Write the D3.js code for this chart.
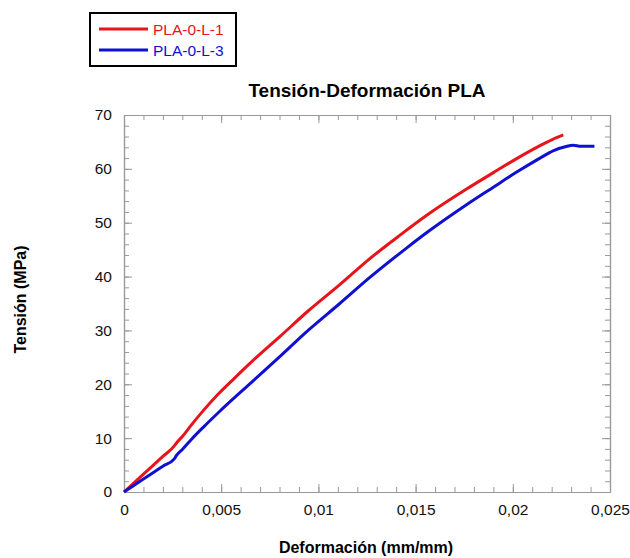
<!DOCTYPE html>
<html>
<head>
<meta charset="utf-8">
<script src="https://cdn.jsdelivr.net/npm/d3@7"></script>
<style>
  body { margin: 0; background: #fff; }
  text { font-family: "Liberation Sans", Arial, sans-serif; }
</style>
</head>
<body>
<div id="chart"></div>
<script>
// series (strain mm/mm, stress MPa)
const red = [
    [0, 0], [0.0010, 3.3], [0.0020, 6.6], [0.0026, 8.6], [0.0027, 9.1], [0.0030, 10.3], [0.0035, 12.6],
    [0.0041, 15.2], [0.0048, 18.0], [0.0057, 21.2], [0.0066, 24.3], [0.0080, 28.8],
    [0.0095, 33.7], [0.0111, 38.5], [0.0126, 43.2], [0.0142, 47.7], [0.0157, 51.7],
    [0.0176, 56.2], [0.0190, 59.3], [0.0202, 61.9], [0.0214, 64.3], [0.0220, 65.4], [0.0226, 66.3]
];
const blue = [
    [0, 0], [0.0010, 2.4], [0.0020, 4.8], [0.0026, 6.2], [0.0027, 6.8], [0.0030, 7.9], [0.0035, 9.9],
    [0.0041, 12.1], [0.0049, 14.9], [0.0066, 20.5], [0.0080, 25.1], [0.0095, 30.1],
    [0.0111, 35.0], [0.0126, 39.7], [0.0145, 45.2], [0.0157, 48.5], [0.0176, 53.3],
    [0.0190, 56.6], [0.0202, 59.4], [0.0214, 62.0], [0.0221, 63.4], [0.0227, 64.1],
    [0.0231, 64.4], [0.0235, 64.2], [0.0242, 64.2]
];
const seriesNames = ["PLA-0-L-1", "PLA-0-L-3"];
const seriesColors = ["#e8141b", "#1010d0"];
const xTicks = [0, 0.005, 0.01, 0.015, 0.02, 0.025];
const xTickLabels = ["0", "0,005", "0,01", "0,015", "0,02", "0,025"];
const yTicks = [0, 10, 20, 30, 40, 50, 60, 70];

const W = 630, H = 558;
const plot = {left: 124, right: 610, top: 115, bottom: 492};

const svg = d3.select("#chart").append("svg")
    .attr("width", W)
    .attr("height", H);

const x = d3.scaleLinear().domain([0, 0.025]).range([plot.left, plot.right]);
const y = d3.scaleLinear().domain([0, 70]).range([plot.bottom, plot.top]);

const axisColor = "#999";
const minorX = d3.range(0, 0.0251, 0.001);
const minorY = d3.range(0, 70.1, 2);

// draws one side of the frame: minor ticks then major ticks with labels
function side(axisFn, scale, pos, majors, minors, labels) {
    const gMinor = svg.append("g").attr("transform", pos)
        .call(axisFn(scale).tickValues(minors).tickSizeInner(-5).tickSizeOuter(0).tickFormat(""));
    const gMajor = svg.append("g").attr("transform", pos)
        .call(axisFn(scale).tickValues(majors).tickSizeInner(-8).tickSizeOuter(0)
            .tickPadding(labels ? 12 : 0)
            .tickFormat((d, i) => labels ? labels[i] : ""));
    [gMinor, gMajor].forEach(g => {
        g.selectAll("path").attr("stroke", axisColor).attr("stroke-width", 1.2);
        g.selectAll("line").attr("stroke", axisColor).attr("stroke-width", 1);
    });
    gMajor.selectAll("text")
        .style("font-family", "Liberation Sans, Arial, sans-serif")
        .style("font-size", "15.5px")
        .attr("fill", "#111");
    return gMajor;
}

side(d3.axisBottom, x, `translate(0,${plot.bottom})`, xTicks, minorX, xTickLabels);
side(d3.axisTop, x, `translate(0,${plot.top})`, xTicks, minorX, null);
side(d3.axisLeft, y, `translate(${plot.left},0)`, yTicks, minorY, yTicks.map(String));
side(d3.axisRight, y, `translate(${plot.right},0)`, yTicks, minorY, null);

// curves
const line = d3.line().x(d => x(d[0])).y(d => y(d[1])).curve(d3.curveMonotoneX);
[red, blue].forEach((s, i) => {
    svg.append("path")
        .datum(s)
        .attr("d", line)
        .attr("fill", "none")
        .attr("stroke", seriesColors[i])
        .attr("stroke-width", 3)
        .attr("stroke-linejoin", "round");
});

// title and axis labels
svg.append("text")
    .attr("x", (plot.left + plot.right) / 2)
    .attr("y", 97)
    .attr("text-anchor", "middle")
    .style("font-size", "19px")
    .style("font-weight", "bold")
    .text("Tensión-Deformación PLA");

svg.append("text")
    .attr("x", (plot.left + plot.right) / 2 - 1)
    .attr("y", 553)
    .attr("text-anchor", "middle")
    .style("font-size", "16px")
    .style("font-weight", "bold")
    .text("Deformación (mm/mm)");

svg.append("text")
    .attr("transform", `translate(26,${(plot.top + plot.bottom) / 2 - 4}) rotate(-90)`)
    .attr("text-anchor", "middle")
    .style("font-size", "16px")
    .style("font-weight", "bold")
    .text("Tensión (MPa)");

// legend
const legend = svg.append("g");
legend.append("rect")
    .attr("x", 90).attr("y", 13)
    .attr("width", 146).attr("height", 53)
    .attr("fill", "#fff")
    .attr("stroke", "#000")
    .attr("stroke-width", 2);
seriesNames.forEach((name, i) => {
    const ly = 29 + i * 21;
    legend.append("line")
        .attr("x1", 99).attr("x2", 148)
        .attr("y1", ly).attr("y2", ly)
        .attr("stroke", seriesColors[i])
        .attr("stroke-width", 3);
    legend.append("text")
        .attr("x", 153).attr("y", ly + 5.5)
        .attr("fill", seriesColors[i])
        .style("font-size", "15.5px")
        .text(name);
});
</script>
</body>
</html>
